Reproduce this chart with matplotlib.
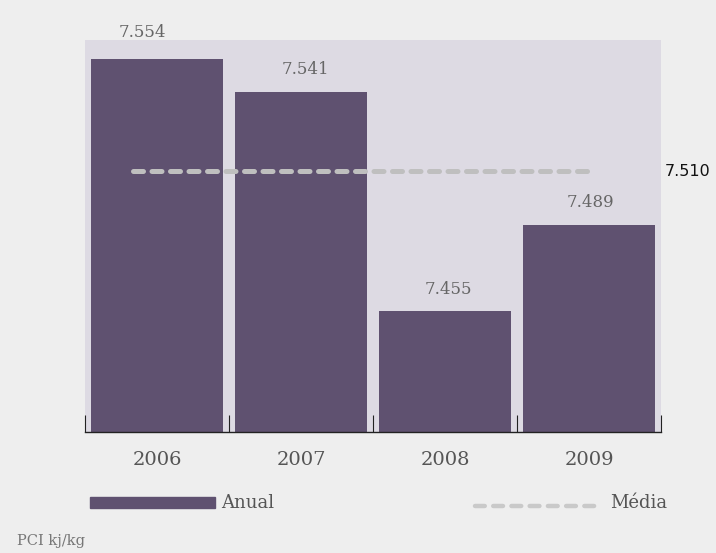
import numpy as np
import matplotlib
matplotlib.use("Agg")
import matplotlib.pyplot as plt
from matplotlib.lines import Line2D
from matplotlib.patches import Rectangle

# data
years = ["2006", "2007", "2008", "2009"]
anual = [7.554, 7.541, 7.455, 7.489]
media = 7.510
labels = ["7.554", "7.541", "7.455", "7.489"]

purple = "#5f5170"
grey_txt = "#666666"

plt.rcParams['font.family'] = ['DejaVu Serif']

fig = plt.figure(figsize=(7.16, 5.53), dpi=100, facecolor="#eeeeee")
ax = fig.add_axes([85/716, 1 - 432/553, 576/716, 392/553])
ax.set_facecolor("#dddae3")

x = np.arange(len(years))
ax.bar(x, anual, width=0.92, color=purple, zorder=2)
ax.set_xlim(-0.5, 3.5)
ax.set_ylim(7.4078, 7.5613)

# mean line
ax.plot([-0.17, 3.02], [media, media], color="#bfbfbf", linewidth=3.6,
        linestyle=(0, (2.0, 1.7)), dash_capstyle="round", zorder=3)
ax.text(1.007, media, "7.510", transform=ax.get_yaxis_transform(),
        ha="left", va="center", fontsize=11.5, color="#111111",
        family="DejaVu Sans", fontweight="medium")

# value labels
offs = [-0.1, 0.03, 0.02, 0.01]
for i, v in enumerate(anual):
    ax.annotate(labels[i], (x[i] + offs[i], v), xytext=(0, 22 if i else 26),
                textcoords="offset pixels", ha="center", va="center",
                fontsize=12, color=grey_txt, annotation_clip=False)

for s in ["top", "left", "right"]:
    ax.spines[s].set_visible(False)
ax.spines["bottom"].set_color("#222222")
ax.spines["bottom"].set_linewidth(1.0)
ax.set_yticks([])
ax.set_xticks(x)
ax.set_xticklabels(years, fontsize=14, color="#555555")
ax.tick_params(axis="x", which="major", length=0, pad=14)
ax.set_xticks(np.arange(-0.5, 4.0, 1.0), minor=True)
ax.tick_params(axis="x", which="minor", direction="in", length=12,
               width=0.8, color="#222222")

# legend
yl = 1 - 503/553
fig.add_artist(Rectangle((90/716, yl - 5/553), 125/716, 11/553,
                         transform=fig.transFigure, color=purple))
fig.text(221/716, yl, "Anual", ha="left", va="center", fontsize=13,
         color="#555555")
fig.add_artist(Line2D([475/716, 600/716], [yl - 3/553, yl - 3/553],
                      transform=fig.transFigure, color="#c9c9c9",
                      linewidth=3.2, linestyle=(0, (2.2, 1.9)),
                      dash_capstyle="round"))
fig.text(610/716, yl, "Média", ha="left", va="center", fontsize=13,
         color="#555555")

fig.text(17/716, 1 - 541/553, "PCI kj/kg", ha="left", va="center",
         fontsize=10.5, color="#777777")

fig.savefig("out.png", dpi=100, facecolor=fig.get_facecolor())
